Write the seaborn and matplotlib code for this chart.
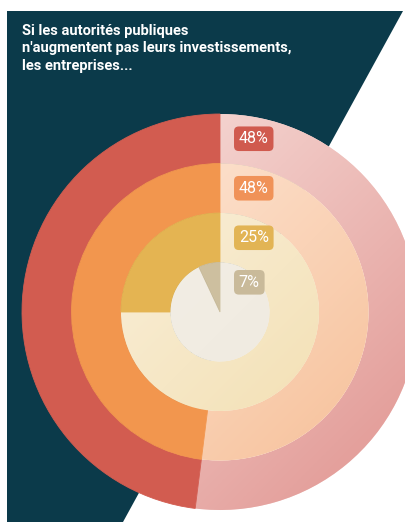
import matplotlib
matplotlib.use("Agg")
import matplotlib.pyplot as plt
import numpy as np
import seaborn as sns
from matplotlib.patches import Polygon

sns.set_style("white")
plt.rcParams['font.family'] = ['Roboto', 'DejaVu Sans']

# Données
title = "Si les autorités publiques\nn'augmentent pas leurs investissements,\nles entreprises..."
shares = [48, 48, 25, 7]          # de l'anneau extérieur au centre
labels = ["48%", "48%", "25%", "7%"]
strong = ["#d25c50", "#f2964e", "#e4b452", "#cdbf9f"]
light_top = ["#f5d6d2", "#fde4d2", "#faf0dc", "#f3efe7"]
light_bot = ["#e4a09c", "#f7c29c", "#f2deae", "#efe9dd"]
tag_colors = ["#d05a4e", "#f09258", "#e2b454", "#c9ba9a"]

W, H = 405, 522
fig = plt.figure(figsize=(W / 100, H / 100), dpi=100)
fig.patch.set_facecolor("white")

# fond bleu nuit avec bord en diagonale
bg = fig.add_axes([0, 0, 1, 1])
bg.set_xlim(0, W)
bg.set_ylim(H, 0)
bg.axis("off")
bg.add_patch(Polygon([(7, 11), (403, 11), (123, H), (7, H)], closed=True,
                     facecolor="#0b3a4a", edgecolor="none"))
bg.text(22, 24, title, color="white", fontsize=10.5, fontweight="bold",
        va="top", ha="left", linespacing=1.3)

# anneaux concentriques
cx, cy, R = 220, 312, 198
ax = fig.add_axes([(cx - R) / W, (H - cy - R) / H, 2 * R / W, 2 * R / H])

# dégradé pour les parts claires
gx, gy = np.meshgrid(np.linspace(-1, 1, 300), np.linspace(1, -1, 300))
grad = np.clip((gx - gy + 1.2) / 2.6, 0, 1)

n = len(shares)
step = 1.0 / n
for i, p in enumerate(shares):
    r = 1.0 - i * step
    wedges, _ = ax.pie([p, 100 - p], colors=[strong[i], light_top[i]], radius=r,
                       startangle=90, counterclock=True,
                       wedgeprops=dict(width=step if i < n - 1 else r, linewidth=0))
    wedges[0].set_edgecolor(strong[i])
    wedges[0].set_linewidth(0.6)
    cmap = sns.blend_palette([light_top[i], light_bot[i]], n_colors=256, as_cmap=True)
    im = ax.imshow(grad, cmap=cmap, vmin=0, vmax=1, extent=(-1, 1, -1, 1),
                   zorder=wedges[1].get_zorder() + 0.01 * i, interpolation="bilinear")
    im.set_clip_path(wedges[1])
    wedges[0].set_zorder(im.get_zorder() + 0.005)

ax.set_xlim(-1, 1)
ax.set_ylim(-1, 1)
ax.set_aspect("equal")
ax.axis("off")

for i, (lab, tc) in enumerate(zip(labels, tag_colors)):
    r_mid = 1.0 - (i + 0.5) * step if i < n - 1 else 0.6 * step
    ax.text(0.095, r_mid, lab, color="white", fontsize=11.5, ha="left", va="center",
            zorder=10,
            bbox=dict(boxstyle="round,pad=0.3,rounding_size=0.3", fc=tc, ec="none"))

fig.savefig("out.png", dpi=100)
